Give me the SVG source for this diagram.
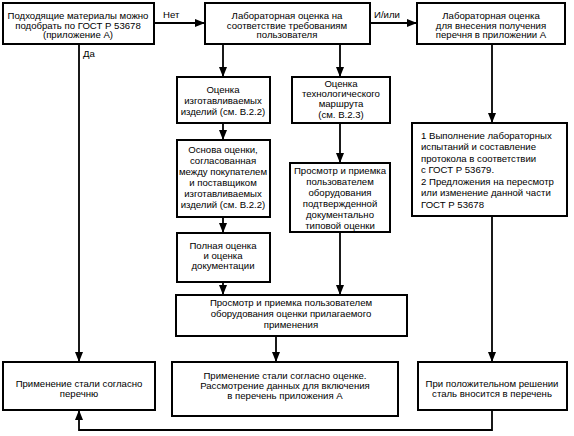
<svg xmlns="http://www.w3.org/2000/svg" width="574" height="436" viewBox="0 0 574 436">
<defs>
<style>
.box{fill:#fff;stroke:#000;stroke-width:2}
.t{font-family:"Liberation Sans",Arial,sans-serif;font-size:9.6px;fill:#000;text-anchor:middle}
.tl{font-family:"Liberation Sans",Arial,sans-serif;font-size:9.6px;fill:#000}
.c{fill:none;stroke:#000;stroke-width:1.8}
</style>
<marker id="arr" viewBox="0 0 10 8" refX="10" refY="4" markerWidth="10" markerHeight="8" markerUnits="userSpaceOnUse" orient="auto">
<path d="M0,0 L10,4 L0,8 Z" fill="#000"/>
</marker>
</defs>
<rect width="574" height="436" fill="#fff"/>
<g id="connectors">
<line class="c" x1="154" y1="23" x2="205" y2="23" marker-end="url(#arr)"/>
<text class="tl" x="163" y="18">Нет</text>
<line class="c" x1="370" y1="23" x2="417" y2="23" marker-end="url(#arr)"/>
<text class="tl" x="374" y="18">И/или</text>
<line class="c" x1="79" y1="44" x2="79" y2="362" marker-end="url(#arr)"/>
<text class="tl" x="83" y="57">Да</text>
<line class="c" x1="223" y1="44" x2="223" y2="77" marker-end="url(#arr)"/>
<line class="c" x1="340" y1="44" x2="340" y2="77" marker-end="url(#arr)"/>
<line class="c" x1="492" y1="44" x2="492" y2="123" marker-end="url(#arr)"/>
<line class="c" x1="223" y1="123" x2="223" y2="140" marker-end="url(#arr)"/>
<line class="c" x1="340" y1="123" x2="340" y2="163" marker-end="url(#arr)"/>
<line class="c" x1="223" y1="217" x2="223" y2="233" marker-end="url(#arr)"/>
<line class="c" x1="223" y1="282" x2="223" y2="295" marker-end="url(#arr)"/>
<line class="c" x1="340" y1="232" x2="340" y2="295" marker-end="url(#arr)"/>
<line class="c" x1="276" y1="336" x2="276" y2="362" marker-end="url(#arr)"/>
<line class="c" x1="492" y1="216" x2="492" y2="362" marker-end="url(#arr)"/>
<polyline class="c" points="492,410 492,430 79,430 79,410" marker-end="url(#arr)"/>
</g>
<g id="nA">
<rect class="box" x="3" y="3" width="151" height="41"/>
<text class="t" x="78" y="18.5">Подходящие материалы можно</text>
<text class="t" x="78" y="28.5">подобрать по ГОСТ Р 53678</text>
<text class="t" x="78" y="38">(приложение А)</text>
</g>
<g id="nB">
<rect class="box" x="205" y="3" width="165" height="41"/>
<text class="t" x="287" y="18.5">Лабораторная оценка на</text>
<text class="t" x="287" y="28.5">соответствие требованиям</text>
<text class="t" x="287" y="38">пользователя</text>
</g>
<g id="nC">
<rect class="box" x="417" y="3" width="148" height="41"/>
<text class="t" x="491" y="18.5">Лабораторная оценка</text>
<text class="t" x="491" y="28.5">для внесения получения</text>
<text class="t" x="491" y="38">перечня в приложении А</text>
</g>
<g id="nD">
<rect class="box" x="177" y="77" width="93" height="46"/>
<text class="t" x="223" y="93">Оценка</text>
<text class="t" x="223" y="104">изготавливаемых</text>
<text class="t" x="223" y="115">изделий (см. В.2.2)</text>
</g>
<g id="nE">
<rect class="box" x="292" y="77" width="98" height="46"/>
<text class="t" x="341" y="86.5">Оценка</text>
<text class="t" x="341" y="96.5">технологического</text>
<text class="t" x="341" y="106.5">маршрута</text>
<text class="t" x="341" y="117.5">(см. В.2.3)</text>
</g>
<g id="nF">
<rect class="box" x="177" y="140" width="93" height="77"/>
<text class="t" x="223" y="152.5">Основа оценки,</text>
<text class="t" x="223" y="163.5">согласованная</text>
<text class="t" x="223" y="175">между покупателем</text>
<text class="t" x="223" y="186">и поставщиком</text>
<text class="t" x="223" y="197">изготавливаемых</text>
<text class="t" x="223" y="208">изделий (см. В.2.2)</text>
</g>
<g id="nG">
<rect class="box" x="290" y="163" width="100" height="69"/>
<text class="t" x="340" y="173.5">Просмотр и приемка</text>
<text class="t" x="340" y="184.5">пользователем</text>
<text class="t" x="340" y="195.5">оборудования</text>
<text class="t" x="340" y="206.5">подтвержденной</text>
<text class="t" x="340" y="217.5">документально</text>
<text class="t" x="340" y="228.5">типовой оценки</text>
</g>
<g id="nH">
<rect class="box" x="177" y="233" width="93" height="49"/>
<text class="t" x="223" y="248.5">Полная оценка</text>
<text class="t" x="223" y="258.5">и оценка</text>
<text class="t" x="223" y="268.5">документации</text>
</g>
<g id="nI">
<rect class="box" x="176" y="295" width="231" height="41"/>
<text class="t" x="291" y="305.5">Просмотр и приемка пользователем</text>
<text class="t" x="291" y="316.5">оборудования оценки прилагаемого</text>
<text class="t" x="291" y="328">применения</text>
</g>
<g id="nL4">
<rect class="box" x="412" y="123" width="155" height="93"/>
<text class="tl" x="421" y="138.5">1 Выполнение лабораторных</text>
<text class="tl" x="421" y="150">испытаний и составление</text>
<text class="tl" x="421" y="161.5">протокола в соответствии</text>
<text class="tl" x="421" y="173">с ГОСТ Р 53679.</text>
<text class="tl" x="421" y="184.5">2 Предложения на пересмотр</text>
<text class="tl" x="421" y="196">или изменение данной части</text>
<text class="tl" x="421" y="207.5">ГОСТ Р 53678</text>
</g>
<g id="nJ">
<rect class="box" x="3" y="362" width="152" height="48"/>
<text class="t" x="79" y="386.5">Применение стали согласно</text>
<text class="t" x="79" y="396.5">перечню</text>
</g>
<g id="nK">
<rect class="box" x="172" y="362" width="226" height="54"/>
<text class="t" x="285" y="378.5">Применение стали согласно оценке.</text>
<text class="t" x="285" y="388.5">Рассмотрение данных для включения</text>
<text class="t" x="285" y="399">в перечень приложения А</text>
</g>
<g id="nL">
<rect class="box" x="418" y="362" width="149" height="48"/>
<text class="t" x="492" y="386.5">При положительном решении</text>
<text class="t" x="492" y="396.5">сталь вносится в перечень</text>
</g>
</svg>
